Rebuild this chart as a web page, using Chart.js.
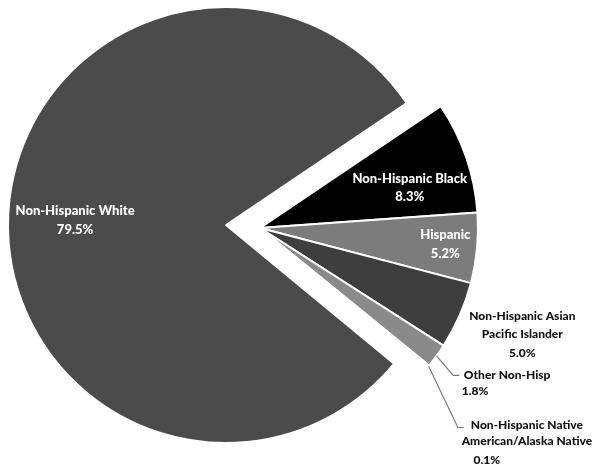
<!DOCTYPE html>
<html>
<head>
<meta charset="utf-8">
<script src="https://cdn.jsdelivr.net/npm/chart.js@4.4.1/dist/chart.umd.min.js"></script>
<style>
  html, body { margin: 0; padding: 0; background: #fff; }
  #wrap { width: 601px; height: 469px; }
</style>
</head>
<body>
<div id="wrap"><canvas id="pie"></canvas></div>
<script>
// data
var groups = ['Non-Hispanic Black', 'Hispanic', 'Non-Hispanic Asian Pacific Islander', 'Other Non-Hisp', 'Non-Hispanic Native American/Alaska Native', 'Non-Hispanic White'];
var shares = [8.3, 5.2, 5.0, 1.8, 0.1, 79.5];
var labelLines = [
  ['Non-Hispanic Black'],
  ['Hispanic'],
  ['Non-Hispanic Asian', 'Pacific Islander'],
  ['Other Non-Hisp'],
  ['Non-Hispanic Native', 'American/Alaska Native'],
  ['Non-Hispanic White']
];
var sliceColors = ['#000000', '#7c7c7c', '#3e3e3e', '#8a8a8a', '#b5b5b5', '#4b4b4b'];

// label placement: polar anchor from the slice centre (dist px, turn deg off mid angle)
var labelStyle = [
  { inside: true, dist: 155, turn: 4.1 },
  { inside: true, dist: 186, turn: -0.3 },
  { inside: false, dist: 283, turn: -1.6 },
  { inside: false, dist: 243, turn: 1.45, leader: true, offs: [[54, 0], [22, 16]] },
  { inside: false, dist: 281, turn: 5.9, leader: true, offs: [[69, -2], [69, 14], [29, 33]] },
  { inside: true, dist: 151, turn: -0.9 }
];
// the big slice is pulled away from the rest
var explodeX = [0, 0, 0, 0, 0, -34];
var explodeY = [0, 0, 0, 0, 0, -3];

var labelPlugin = {
  id: 'sliceLabels',
  afterDatasetsUpdate: function (chart) {
    var arcs = chart.getDatasetMeta(0).data;
    arcs.forEach(function (arc, i) {
      arc.x += explodeX[i];
      arc.y += explodeY[i];
    });
  },
  afterDatasetsDraw: function (chart) {
    var ctx = chart.ctx;
    var arcs = chart.getDatasetMeta(0).data;
    ctx.save();
    ctx.textBaseline = 'middle';
    arcs.forEach(function (arc, i) {
      var st = labelStyle[i];
      var mid = (arc.startAngle + arc.endAngle) / 2;
      var a = mid + st.turn * Math.PI / 180;
      var ax = arc.x + Math.cos(a) * st.dist;
      var ay = arc.y + Math.sin(a) * st.dist;
      var lines = labelLines[i].concat([shares[i].toFixed(1) + '%']);
      if (st.inside) {
        ctx.fillStyle = '#ffffff';
        ctx.font = '900 13px Lato';
      } else {
        ctx.fillStyle = '#111111';
        ctx.font = '900 12px Lato';
      }
      ctx.textAlign = 'center';
      if (st.leader) {
        var sx = arc.x + Math.cos(mid) * arc.outerRadius;
        var sy = arc.y + Math.sin(mid) * arc.outerRadius;
        ctx.strokeStyle = '#7a7a7a';
        ctx.lineWidth = 1.2;
        ctx.beginPath();
        ctx.moveTo(sx, sy);
        ctx.lineTo(ax, ay);
        ctx.lineTo(ax + 6, ay);
        ctx.stroke();
        lines.forEach(function (t, k) {
          ctx.fillText(t, ax + st.offs[k][0], ay + st.offs[k][1]);
        });
      } else {
        var lh = 18.5;
        lines.forEach(function (t, k) {
          ctx.fillText(t, ax, ay + (k - (lines.length - 1) / 2) * lh);
        });
      }
    });
    ctx.restore();
  }
};

var ctx1 = document.getElementById('pie').getContext('2d');
var chart1 = new Chart(ctx1, {
  type: 'pie',
  data: {
    labels: groups,
    datasets: [{
      data: shares,
      backgroundColor: sliceColors,
      borderColor: '#ffffff',
      borderWidth: 2
    }]
  },
  options: {
    responsive: true,
    maintainAspectRatio: false,
    animation: false,
    events: [],
    rotation: 56,
    radius: 218,
    layout: { padding: { left: 0, right: 81, top: 0, bottom: 13 } },
    plugins: {
      legend: { display: false },
      tooltip: { enabled: false }
    }
  },
  plugins: [labelPlugin]
});
</script>
</body>
</html>
